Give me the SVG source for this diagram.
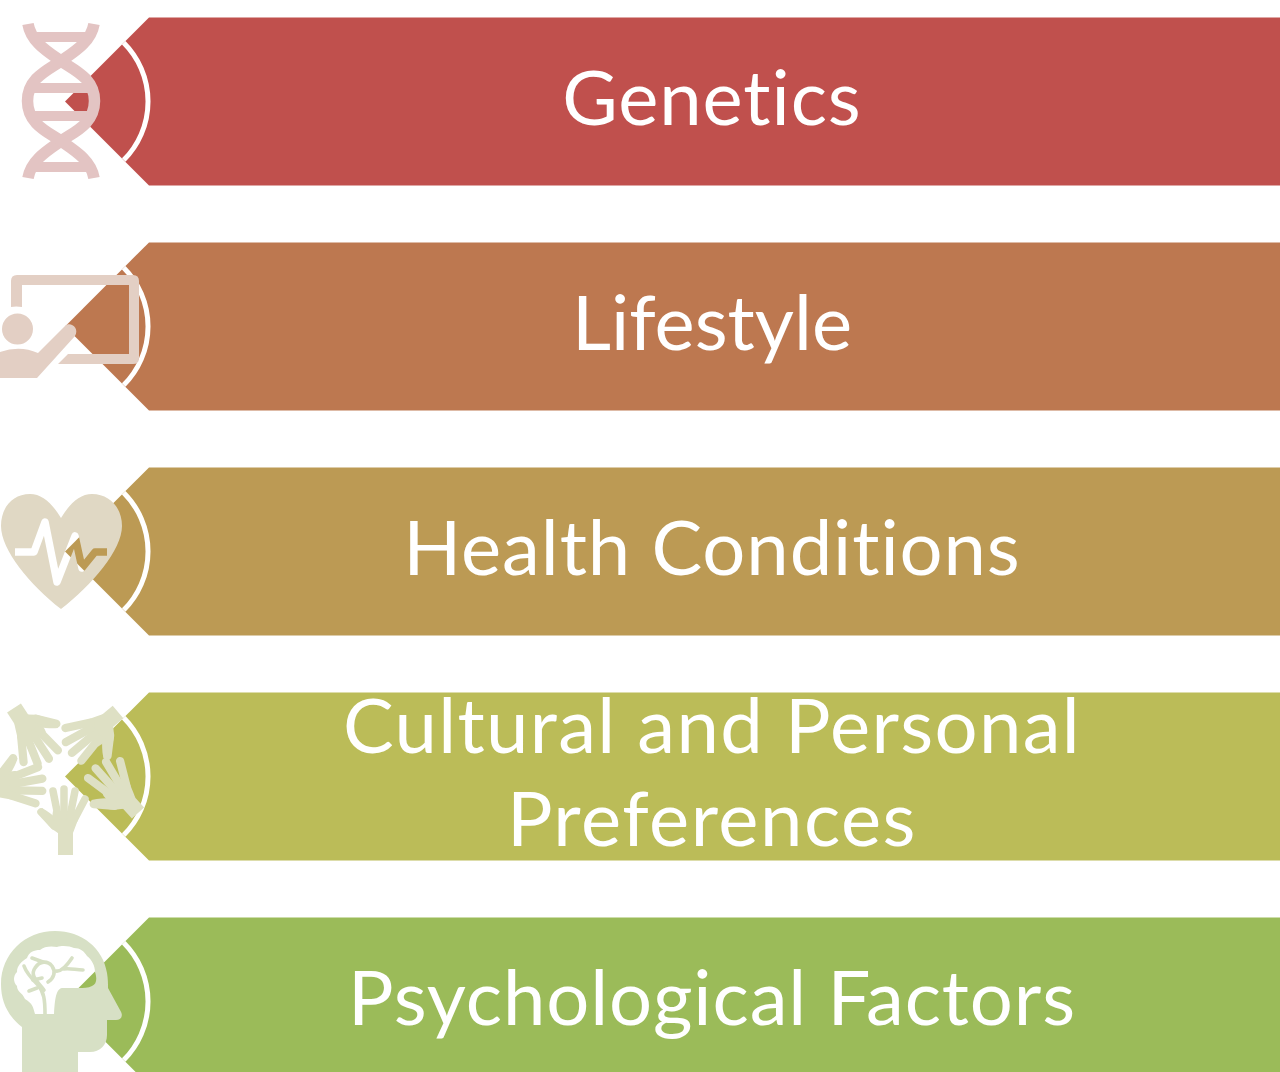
<svg xmlns="http://www.w3.org/2000/svg" width="1280" height="1072" viewBox="0 0 1280 1072">
<style>
.lbl{font-family:"Lato","Open Sans","Liberation Sans",sans-serif;font-size:76px;fill:#fff;text-anchor:middle;font-variant-ligatures:none;letter-spacing:.9px}
.arc{fill:none;stroke:#fff;stroke-width:5}
</style>
<defs>
<path id="band" d="M149,17.4H1280V185.4H149L65,101.4Z"/>
<path id="bandarc" d="M123.7,42.7A83,83 0 0 1 123.7,160.1"/>
<g id="hand">
<path d="M58,845V833L52,829C47,824 43,817 38,813L42,808C48,811 52,815 56,818L73,818V845Z" fill="#DEE0C4"/>
<path d="M58,833C52,824 52,816 53,811H74L80,814C77,822 75,828 73,833Z" fill="#DEE0C4"/>
<g fill="none" stroke="#DEE0C4" stroke-width="7.5" stroke-linecap="round">
<path d="M41,812L54,826"/>
<path d="M53,791L58,816"/>
<path d="M64,789V816"/>
<path d="M75,791L70,816"/>
<path d="M85,799L74,820"/>
</g>
</g>
<mask id="pulse" maskUnits="userSpaceOnUse" x="0" y="480" width="130" height="140">
<rect x="0" y="480" width="130" height="140" fill="#fff"/>
<path d="M15,552H34L45,522L57,582L75,536L82,568L95,552H107" fill="none" stroke="#000" stroke-width="7.5" stroke-linejoin="round"/>
</mask>
</defs>
<g id="connectors"></g>
<g id="genetics">
<use href="#band" fill="#C0504D"/><use href="#bandarc" class="arc"/>
<text class="lbl" x="712" y="125">Genetics</text>
<g fill="none" stroke="#E3C4C3" stroke-width="11.5">
<path d="M28,24C31,42 48,52 61,61C74,70 94.5,78 94.5,101C94.5,124 74,132 61,141C48,150 31,160 28,178"/>
<path d="M94,24C91,42 74,52 61,61C48,70 27.5,78 27.5,101C27.5,124 48,132 61,141C74,150 91,160 94,178"/>
</g>
<g fill="#E3C4C3"><rect x="30" y="32" width="62" height="10"/><rect x="30" y="83" width="62" height="10"/><rect x="30" y="111" width="62" height="10"/><rect x="30" y="162" width="62" height="10"/></g>
</g>
<g id="lifestyle">
<use href="#band" y="225" fill="#BD7850"/><use href="#bandarc" y="225" class="arc"/>
<text class="lbl" x="712" y="350" style="letter-spacing:0">Lifestyle</text>
<g fill="#E3CFC4">
<path d="M11,307V281Q11,275 17,275H133Q139,275 139,281V358Q139,364 133,364H58L68,354H129V285H22V307Q16,306 11,307Z"/>
<circle cx="17.5" cy="329" r="15.5"/>
<path d="M0,352Q20,345 38,353L65,326C70,321 80,328 75,336L37,378H0Z"/>
</g>
</g>
<g id="health">
<use href="#band" y="450" fill="#BC9A54"/><use href="#bandarc" y="450" class="arc"/>
<text class="lbl" x="712" y="575">Health Conditions</text>
<path mask="url(#pulse)" fill="#E0D8C4" d="M61,518C52,503 42,494 30,494C12,494 1,508 1,526C1,550 30,585 61,609C92,585 122,550 122,526C122,508 110,494 92,494C80,494 70,503 61,518Z"/>
</g>
<g id="cultural">
<use href="#band" y="675" fill="#BBBC58"/><use href="#bandarc" y="675" class="arc"/>
<text class="lbl" x="712" y="753" style="letter-spacing:1.35px">Cultural and Personal</text>
<text class="lbl" x="712" y="846" style="letter-spacing:1.5px">Preferences</text>
<use href="#hand"/><rect x="58" y="840" width="15" height="15" fill="#DEE0C4"/>
<use href="#hand" transform="translate(138 813) rotate(-42) scale(1.1) translate(-65.5 -845)"/>
<use href="#hand" transform="translate(118 712) rotate(-130) scale(1.1) translate(-65.5 -845)"/>
<use href="#hand" transform="translate(14 708) rotate(147) scale(1.1) translate(-65.5 -845)"/>
<use href="#hand" transform="translate(-18 791) rotate(80) scale(1.1) translate(-65.5 -845)"/>
</g>
<g id="psychological">
<use href="#band" y="900" fill="#9BBB59"/><use href="#bandarc" y="900" class="arc"/>
<text class="lbl" x="712" y="1025">Psychological Factors</text>
<path fill="#D7E0C5" fill-rule="evenodd" d="M22,1072V1027C8,1016 1,1002 1,984C1,954 25,931 55,931C82,931 103,948 107,973C108,979 108,984 108,988L120,1010C124,1016 121,1020 116,1020H107V1035C107,1045 100,1052 90,1052H78V1072Z
M35,1014C33,1007 33,1004 25,999C22,992 17,992 17,986C13,982 13,976 17,972C17,966 21,962 27,958C29,952 34,950 40,950C44,946 52,946 57,947C62,945 70,946 74,948C80,948 84,951 87,956C92,960 95,966 95,972C97,978 97,984 92,986C88,988 84,988 78,988H63C57,988 55,995 54,1014Z"/>
<g fill="none" stroke="#D7E0C5" stroke-width="3.6" stroke-linecap="round" stroke-linejoin="round">
<path d="M45,1014C45,1000 44,992 38,985C30,977 26,972 24,966"/>
<path d="M44,990C36,980 30,975 35,968C40,960 48,961 52,966C56,972 54,978 48,982"/>
<path d="M33,980L42,978"/>
<path d="M29,991L37,988"/>
<path d="M56,971C62,972 68,964 72,958"/>
<path d="M64,969C70,968 76,970 83,970"/>
<path d="M32,958L43,962"/>
</g>
</g>
</svg>
